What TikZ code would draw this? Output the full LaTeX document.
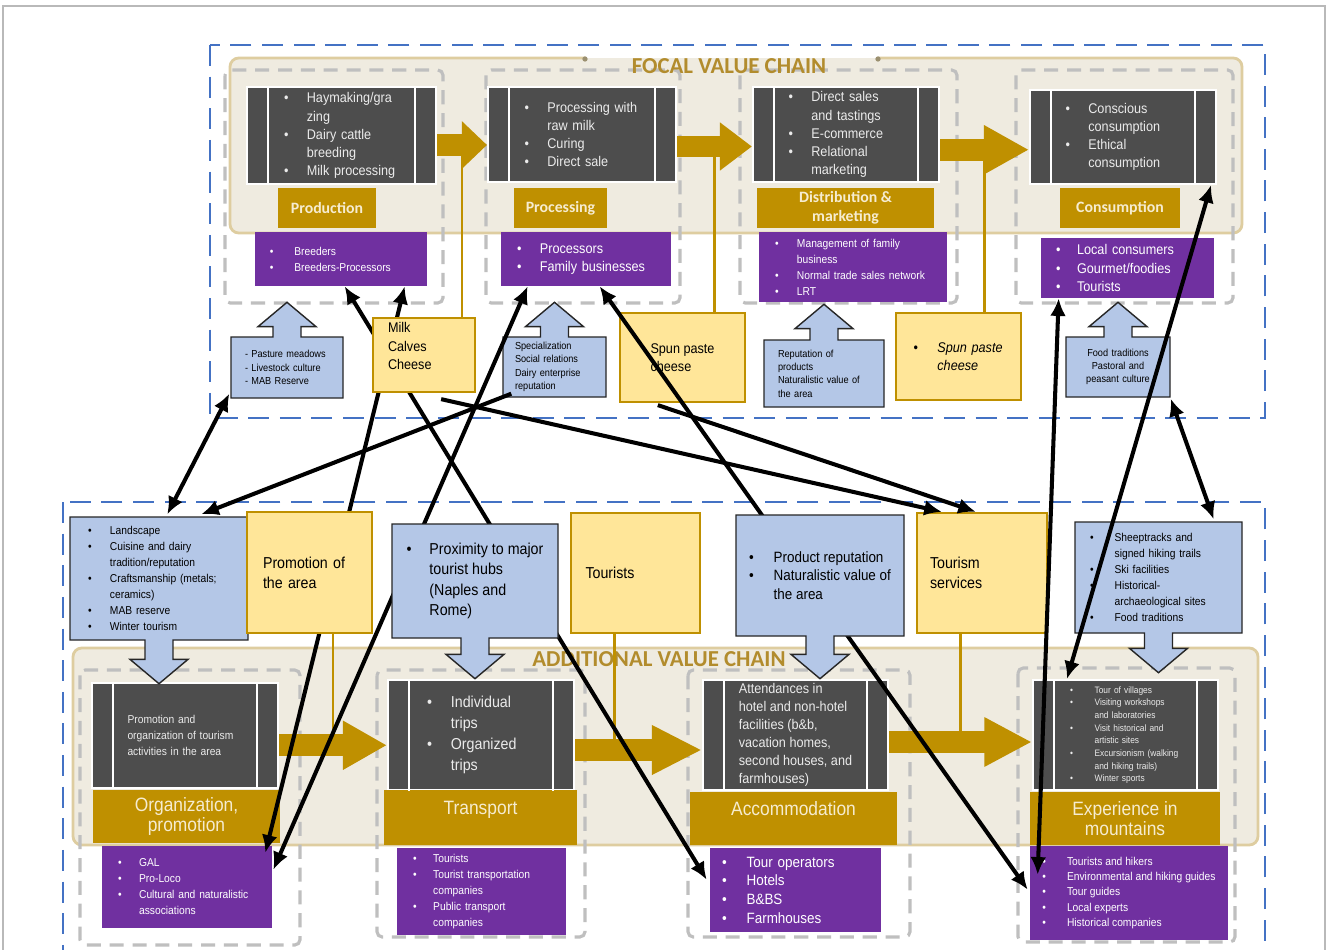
\documentclass[tikz,border=0pt]{standalone}
\usepackage{fontspec}
\setmainfont{Liberation Sans}[FakeStretch=0.9]
\newfontfamily\calfont{Carlito}
\usetikzlibrary{calc,positioning,shapes.arrows,arrows.meta}
\definecolor{chainblue}{RGB}{68,114,196}
\definecolor{colgray}{RGB}{191,191,191}
\definecolor{beige}{RGB}{239,235,224}
\definecolor{beigeline}{RGB}{222,205,160}
\definecolor{darkbox}{RGB}{77,77,77}
\definecolor{gold}{RGB}{191,144,0}
\definecolor{cream}{RGB}{246,236,208}
\definecolor{actorpurple}{RGB}{112,48,160}
\definecolor{resblue}{RGB}{180,199,231}
\definecolor{prodyellow}{RGB}{255,230,153}
\definecolor{titlegold}{RGB}{178,140,45}
\newlength{\bw}\setlength{\bw}{13pt}
\newcommand{\bu}{\makebox[\bw][l]{\textbullet}}
\newcommand{\bk}{\hspace*{\bw}}
\pgfdeclarelayer{back}
\pgfdeclarelayer{front}
\pgfsetlayers{back,main,front}

\begin{document}
\begin{tikzpicture}[x=0.02cm, y=-0.02cm,
	span/.style args={#1/#2/#3/#4}{at={({(#1+#3)/2},{(#2+#4)/2})},
		minimum width={(#3-#1)*0.02cm}, minimum height={(#4-#2)*0.02cm}},
	chainFrame/.style={draw=chainblue, line width=1.4pt, dash pattern=on 12pt off 6pt},
	chainLine/.style={draw=beigeline, line width=1.6pt, rounded corners=5pt},
	chainTitle/.style={font=\calfont\bfseries\fontsize{13}{15}\selectfont, text=titlegold},
	stageBox/.style={draw=colgray, line width=1.8pt, dash pattern=on 8pt off 5pt, rounded corners=3pt},
	activity/.style={fill=darkbox, draw=white, line width=1.2pt, inner sep=0pt, text=white!92!black, align=left},
	barLine/.style={draw=white, line width=1.2pt},
	phase/.style={fill=gold, inner sep=0pt, text=cream, align=center},
	phaseTop/.style={phase, font=\calfont\bfseries\fontsize{9}{10.5}\selectfont},
	phaseLow/.style={phase, font=\fontsize{11}{11.5}\selectfont},
	actor/.style={fill=actorpurple, inner sep=0pt, text=white, align=left},
	resource/.style={arrow box, fill=resblue, draw=black!85, line width=0.8pt, inner sep=0pt, align=left,
		arrow box shaft width=0.56cm, arrow box head extend=0.3cm, arrow box tip angle=100},
	resUp/.style={resource, arrow box arrows={north:#1}},
	resDown/.style={resource, arrow box arrows={south:#1}},
	good/.style={fill=prodyellow, draw=gold, line width=1.3pt, inner sep=0pt, align=left},
	flow/.style={draw=gold, line width=0.44cm, -{Triangle[length=#1, width=0.92cm]}},
	feed/.style={draw=gold, line width=1.6pt},
	link/.style={line width=2.3pt, -{Latex[length=10pt, width=9pt]}},
	linkBoth/.style={line width=2.3pt, {Latex[length=10pt, width=9pt]}-{Latex[length=10pt, width=9pt]}},
	bulletGap/.style={execute at begin node={\setlength{\bw}{#1}}},
	txtXL/.style={font=\fontsize{9}{11.5}\selectfont},
	txtL/.style={font=\fontsize{8}{10.3}\selectfont},
	txtM/.style={font=\fontsize{6.5}{9.1}\selectfont},
	txtS/.style={font=\fontsize{5.8}{7.6}\selectfont},
	txtXS/.style={font=\fontsize{5.3}{7.2}\selectfont},
	]
	\useasboundingbox (0,0) rectangle (1329,950);
	
	% frames and chains
	\begin{pgfonlayer}{back}
		\fill[white] (0,0) rectangle (1329,950);
		\draw[gray!55, line width=0.8pt] (3,6) rectangle (1325,990);
		\draw[chainFrame] (210,45) rectangle (1265,418);
		\draw[chainFrame] (63,502) rectangle (1265,990);
		\fill[beige, rounded corners=5pt] (230,58) rectangle (1242,233);
		\draw[chainLine] (585,58) -- (230,58) -- (230,233) -- (1242,233) -- (1242,58) -- (878,58);
		\fill[beigeline!70!black] (585,59) circle (1.5pt) (878,59) circle (1.5pt);
		\fill[beige, rounded corners=5pt] (73,648) rectangle (1258,845);
		\draw[chainLine] (73,648) rectangle (1258,845);
		\foreach \xa/\ya/\xb/\yb in {225/70/443/303, 486/70/680/303, 740/70/957/303, 1016/70/1233/303,
			80/670/300/945, 377/670/585/937, 688/670/910/937, 1018/668/1235/942}
		\draw[stageBox] (\xa,\ya) rectangle (\xb,\yb);
		\node[chainTitle] (focalTitle) at (729,66) {FOCAL VALUE CHAIN};
		\node[chainTitle] (additionalTitle) at (659,659) {ADDITIONAL VALUE CHAIN};
	\end{pgfonlayer}
	
	% focal value chain
	\node[activity, txtL, text width=2.3cm, span=247/87/436/184] (prodBox)
	{\bu Haymaking/gra\\\bk zing\\\bu Dairy cattle\\\bk breeding\\\bu Milk processing};
	\node[activity, txtL, text width=2.3cm, span=488/87/676/182] (procBox)
	{\bu Processing with\\\bk raw milk\\\bu Curing\\\bu Direct sale};
	\node[activity, txtL, text width=2.3cm, span=753/87/939/182] (distBox)
	{\bu Direct sales\\\bk and tastings\\\bu E-commerce\\\bu Relational\\\bk marketing};
	\node[activity, txtL, text width=2.3cm, span=1030/90/1216/184] (consBox)
	{\bu Conscious\\\bk consumption\\\bu Ethical\\\bk consumption};
	
	\node[phaseTop, span=278/188/376/228] (prodLbl) {Production};
	\node[phaseTop, span=514/188/607/228] (procLbl) {Processing};
	\node[phaseTop, span=757/188/934/228] (distLbl) {Distribution \&\\marketing};
	\node[phaseTop, span=1060/188/1180/228] (consLbl) {Consumption};
	
	\node[actor, txtM, bulletGap=14pt, text width=2.85cm, span=255/232/427/286] (breeders)
	{\bu Breeders\\\bu Breeders-Processors};
	\node[actor, txtL, text width=2.76cm, span=501/232/671/286] (processors)
	{\bu Processors\\\bu Family businesses};
	\node[actor, txtM, bulletGap=12.5pt, text width=3.12cm, span=759/232/947/302] (managers)
	{\bu Management of family\\\bk business\\\bu Normal trade sales network\\\bu LRT};
	\node[actor, txtL, bulletGap=12pt, text width=2.86cm, span=1041/238/1214/298] (consumers)
	{\bu Local consumers\\\bu Gourmet/foodies\\\bu Tourists};
	
	\node[resUp=0.68cm, txtS, text width=1.68cm, span=231/337/343/398] (res1)
	{- Pasture meadows\\- Livestock culture\\- MAB Reserve};
	\node[resUp=0.68cm, txtS, text width=1.58cm, span=503/337/606/397] (res2)
	{Specialization\\Social relations\\Dairy enterprise\\reputation};
	\node[resUp=0.7cm, txtS, text width=1.84cm, span=764/340/884/407] (res3)
	{Reputation of\\products\\Naturalistic value of\\the area};
	\node[resUp=0.68cm, txtS, align=center, text width=1.9cm, span=1066/337/1170/397] (res4)
	{Food traditions\\Pastoral and\\peasant culture};
	
	\node[good, txtL, span=620/313/745/402] (spun) {Spun paste\\cheese};
	\node[good, txtL, bulletGap=13.6pt, text width=1.8cm, span=896/313/1021/400] (spunIt)
	{\bu\textit{Spun paste}\\\bk\textit{cheese}};
	
	% additional value chain
	\node[activity, txtM, text width=2.3cm, span=92/683/278/788] (orgBox)
	{Promotion and\\organization of tourism\\activities in the area};
	\node[activity, font=\fontsize{9}{12}\selectfont, bulletGap=13.6pt, text width=2.16cm, span=388/680/574/790] (transBox)
	{\bu Individual\\\bk trips\\\bu Organized\\\bk trips};
	\node[activity, txtL, span=703/680/888/790] (accBox)
	{Attendances in\\hotel and non-hotel\\facilities (b\&b,\\vacation homes,\\second houses, and\\farmhouses)};
	\node[activity, txtXS, bulletGap=14pt, text width=2.22cm, span=1033/680/1218/790] (expBox)
	{\bu Tour of villages\\\bu Visiting workshops\\\bk and laboratories\\\bu Visit historical and\\\bk artistic sites\\\bu Excursionism (walking\\\bk and hiking trails)\\\bu Winter sports};
	
	\node[phaseLow, span=93/790/280/843] (orgLbl) {Organization,\\promotion};
	\node[phaseLow, span=384/790/577/845] (transLbl) {Transport\\\mbox{}};
	\node[phaseLow, span=690/792/897/845] (accLbl) {Accommodation\\\mbox{}};
	\node[phaseLow, span=1030/792/1220/845] (expLbl) {Experience in\\mountains};
	
	\node[actor, txtM, bulletGap=12pt, text width=2.76cm, span=102/846/272/928] (gal)
	{\bu GAL\\\bu Pro-Loco\\\bu Cultural and naturalistic\\\bk associations};
	\node[actor, txtM, bulletGap=11.5pt, text width=2.74cm, span=397/848/566/935] (carriers)
	{\bu Tourists\\\bu Tourist transportation\\\bk companies\\\bu Public transport\\\bk companies};
	\node[actor, font=\fontsize{8.5}{10.6}\selectfont, bulletGap=14pt, text width=2.94cm, span=710/848/881/932] (tourOps)
	{\bu Tour operators\\\bu Hotels\\\bu B\&BS\\\bu Farmhouses};
	\node[actor, font=\fontsize{6.5}{8.6}\selectfont, bulletGap=14pt, span=1030/846/1228/940] (hikers)
	{\bu Tourists and hikers\\\bu Environmental and hiking guides\\\bu Tour guides\\\bu Local experts\\\bu Historical companies};
	
	\node[resDown=0.86cm, txtM, bulletGap=12.5pt, text width=2.84cm, span=70/517/248/640] (res5)
	{\bu Landscape\\\bu Cuisine and dairy\\\bk tradition/reputation\\\bu Craftsmanship (metals;\\\bk ceramics)\\\bu MAB reserve\\\bu Winter tourism};
	\node[resDown=0.78cm, txtM, bulletGap=14pt, text width=2.74cm, span=1075/522/1242/633] (res8)
	{\bu Sheeptracks and\\\bk signed hiking trails\\\bu Ski facilities\\\bu Historical-\\\bk archaeological sites\\\bu Food traditions};
	
	\node[good, txtXL, text width=2cm, span=571/513/700/633] (tourists) {Tourists};
	\node[good, txtXL, text width=2.08cm, span=917/513/1047/633] (tourism) {Tourism\\services};
	
	\begin{pgfonlayer}{front}
		\node[good, txtL, text width=1.44cm, span=373/318/475/392] (milk) {Milk\\Calves\\Cheese\\\mbox{}};
		\node[good, txtXL, text width=1.86cm, span=247/512/372/633] (promo) {Promotion of\\the area};
		\node[resDown=0.8cm, txtXL, span=392/524/558/638] (res6)
		{\bu Proximity to major\\\bk tourist hubs\\\bk (Naples and\\\bk Rome)};
		\node[resDown=0.84cm, font=\fontsize{8.5}{10.5}\selectfont, bulletGap=14pt, span=736/515/904/636] (res7)
		{\bu Product reputation\\\bu Naturalistic value of\\\bk the area};
	\end{pgfonlayer}
	
	% side bars
	\foreach \b in {prodBox, procBox, distBox, consBox, orgBox, transBox, accBox, expBox}
	{\draw[barLine] ($(\b.north west)+(22,0)$) -- ($(\b.south west)+(22,0)$);
		\draw[barLine] ($(\b.north east)+(-22,0)$) -- ($(\b.south east)+(-22,0)$);}
	
	% flows
	\coordinate (flowA) at ($(prodBox.east)!0.5!(procBox.west)+(0,10)$);
	\coordinate (flowB) at ($(procBox.east)!0.5!(distBox.west)+(0,12)$);
	\coordinate (flowC) at ($(distBox.east)!0.5!(consBox.west)+(0,14)$);
	\coordinate (flowD) at ($(orgBox.east)!0.5!(transBox.west)+(0,10)$);
	\coordinate (flowE) at ($(transBox.east)!0.5!(accBox.west)+(0,15)$);
	\coordinate (flowF) at ($(accBox.east)!0.5!(expBox.west)+(0,7)$);
	
	\draw[feed] (milk.north -| flowA) -- (flowA);
	\draw[feed] (spun.north -| flowB) -- (flowB);
	\draw[feed] (spunIt.north -| flowC) -- (flowC);
	\draw[feed] (promo.south -| flowD) -- (flowD);
	\draw[feed] ($(tourists.south)+(-21,0)$) -- ($(tourists.south |- flowE)+(-21,0)$);
	\draw[feed] (tourism.south -| flowF) -- (flowF);
	
	\draw[flow=0.5cm] (prodBox.east |- flowA) -- (procBox.west |- flowA);
	\draw[flow=0.64cm] (procBox.east |- flowB) -- (distBox.west |- flowB);
	\draw[flow=0.9cm] (distBox.east |- flowC) -- (consBox.west |- flowC);
	\draw[flow=0.88cm] (orgBox.east |- flowD) -- (transBox.west |- flowD);
	\draw[flow=1cm] (transBox.east |- flowE) -- (accBox.west |- flowE);
	\draw[flow=0.95cm] (accBox.east |- flowF) -- (expBox.west |- flowF);
	
	% links
	\draw[linkBoth] ($(res1.south west)+(-1,-5)$) -- ($(res5.north west)+(98,-2)$);
	\draw[link] ($(res2.south west)+(9,-4)$) -- ($(res5.north west)+(132,-2)$);
	\draw[linkBoth] ($(breeders.south west)+(150,0)$) -- ($(gal.north east)+(-7,7)$);
	\draw[linkBoth] ($(breeders.south west)+(90,0)$) -- ($(tourOps.north west)+(-3,32)$);
	\draw[linkBoth] ($(processors.south west)+(27,0)$) -- ($(gal.north east)+(1,24)$);
	\draw[link] ($(milk.south east)+(-35,6)$) -- ($(tourism.north west)+(26,0)$);
	\draw[linkBoth] ($(processors.south west)+(99,0)$) -- ($(hikers.north west)+(-2,44)$);
	\draw[link] ($(spun.south west)+(39,2)$) -- ($(tourism.north west)+(60,0)$);
	\draw[linkBoth] ($(consumers.south west)+(18,0)$) -- ($(hikers.north west)+(8,29)$);
	\draw[linkBoth] ($(consBox.south east)+(-6,0)$) -- ($(expBox.north west)+(35,0)$);
	\draw[linkBoth] ($(res4.south east)+(0,1)$) -- ($(res8.north east)+(-29,-2)$);
	
\end{tikzpicture}
\end{document}
